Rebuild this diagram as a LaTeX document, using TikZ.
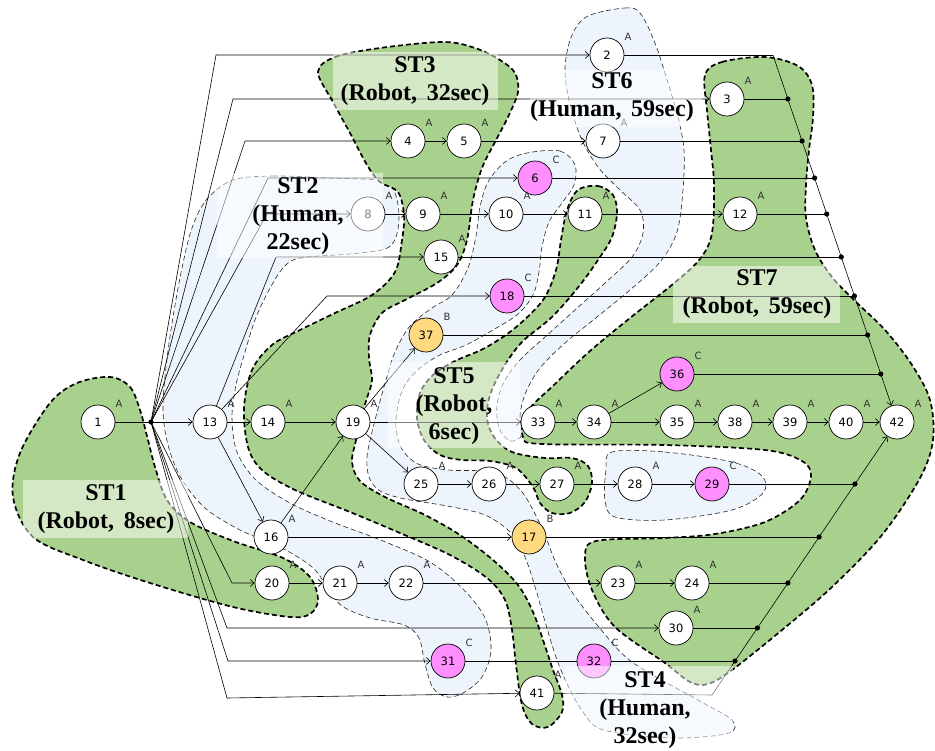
\documentclass[tikz,border=0pt]{standalone}
\usepackage{fontspec}
\setmainfont{Liberation Serif}
\newfontfamily\numfont{DejaVu Sans}
\usetikzlibrary{arrows.meta}
\definecolor{rgreen}{HTML}{A9D18E}
\definecolor{hblue}{HTML}{EDF4FB}
\definecolor{tpink}{HTML}{FF8FFF}
\definecolor{tyellow}{HTML}{FFD97F}
\definecolor{lblgray}{HTML}{333333}
\newcommand\mytask[5]{\node[task,fill=#4] (n#1) at (#2,#3) {#1};\node[lbl] at ([shift={(21,-18)}]n#1.center) {#5};}
\begin{document}
\begin{tikzpicture}[x=1pt,y=-1pt,
  grn/.style={fill=rgreen,draw=black,line width=1.7pt,dash pattern=on 5pt off 3pt},
  blu/.style={fill=hblue,draw=black!85,line width=0.6pt,dash pattern=on 5pt off 3pt},
  task/.style={circle,draw=black,line width=0.7pt,minimum size=34pt,inner sep=0pt,font=\numfont\fontsize{11.5}{11.5}\selectfont},
  lbl/.style={font=\numfont\fontsize{10}{10}\selectfont,text=lblgray,inner sep=0pt},
  edge/.style={draw=black,line width=0.6pt},
  arr/.style={edge,-{Straight Barb[length=4pt,width=7pt]}},
  stbox/.style={fill=white,fill opacity=0.5,draw=none},
  sttext/.style={font=\bfseries\fontsize{24}{28}\selectfont,align=center,inner sep=0pt}
]
\useasboundingbox (0,0) rectangle (935,751);
% ---------- blue (human) regions ----------
\path[blu] plot[smooth cycle,tension=0.55] coordinates {(233,180)(273,176)(330,178)(383,181)(395,193)(399,215)(396,237)(385,249)(350,254)(300,258)(283,268)(268,292)(255,320)(245,352)(236,385)(232,418)(237,452)(256,480)(290,503)(330,521)(383,541)(430,562)(463,589)(485,618)(491,650)(482,677)(463,693)(447,697)(433,688)(425,664)(419,638)(404,625)(370,618)(342,606)(328,588)(312,567)(280,547)(240,530)(205,508)(181,478)(168,445)(163,410)(166,367)(173,317)(182,268)(192,228)(207,199)};
\path[blu] plot[smooth cycle,tension=0.55] coordinates {(527,153)(560,151)(575,165)(574,185)(562,203)(549,222)(542,247)(539,272)(533,295)(518,314)(493,330)(466,345)(440,355)(420,368)(405,385)(398,405)(396,428)(402,449)(418,464)(448,470)(482,471)(505,477)(522,492)(533,510)(545,535)(556,563)(572,592)(598,626)(632,662)(698,700)(732,720)(729,733)(682,738)(632,735)(598,728)(583,712)(570,690)(557,660)(546,625)(536,590)(525,557)(511,533)(485,515)(447,506)(405,499)(380,491)(369,477)(367,457)(372,432)(379,405)(386,380)(395,352)(410,326)(432,308)(452,295)(468,268)(476,236)(480,207)(488,182)(505,162)};
\path[blu] plot[smooth cycle,tension=0.55] coordinates {(588,16)(625,8)(640,13)(655,43)(668,83)(678,117)(684,150)(683,190)(677,232)(660,262)(630,290)(597,317)(565,343)(540,368)(526,392)(520,415)(522,435)(510,441)(499,428)(497,405)(504,382)(520,360)(545,337)(575,310)(605,283)(632,257)(643,233)(640,210)(620,190)(598,167)(581,138)(569,100)(565,67)(572,35)};
\path[blu] plot[smooth cycle,tension=0.55] coordinates {(612,452)(665,452)(732,462)(762,476)(763,493)(732,510)(665,520)(615,517)(605,500)(606,470)};
% ---------- green (robot) regions ----------
\path[grn] plot[smooth cycle,tension=0.55] coordinates {(110,377)(130,387)(140,410)(148,440)(155,467)(167,500)(190,522)(233,541)(283,558)(310,577)(318,600)(310,614)(290,617)(233,607)(150,583)(83,560)(33,537)(13,497)(20,453)(50,403)(77,383)};
\path[grn] plot[smooth cycle,tension=0.55] coordinates {(318,72)(335,57)(380,48)(443,42)(475,48)(500,60)(515,73)(518,92)(508,117)(495,142)(482,168)(473,200)(467,240)(457,265)(437,283)(405,300)(382,313)(370,335)(369,358)(372,380)(367,398)(360,420)(356,440)(352,462)(360,481)(385,497)(425,515)(460,535)(493,560)(518,585)(533,612)(543,640)(553,670)(562,695)(562,712)(548,727)(532,724)(522,705)(516,665)(512,630)(505,600)(487,578)(450,555)(400,533)(350,512)(295,490)(262,470)(248,447)(244,408)(252,370)(272,345)(300,330)(335,313)(372,295)(395,272)(402,240)(404,215)(398,192)(380,182)(367,165)(350,133)(333,102)};
\path[grn] plot[smooth cycle,tension=0.55] coordinates {(578,190)(598,186)(613,195)(617,213)(612,237)(600,257)(580,285)(552,317)(522,342)(503,368)(490,395)(487,418)(494,437)(512,452)(545,458)(572,458)(588,466)(592,483)(585,502)(570,513)(552,513)(540,503)(533,487)(516,468)(490,461)(462,460)(440,455)(424,440)(417,418)(420,393)(433,375)(455,361)(485,348)(515,328)(543,300)(556,270)(561,240)(567,210)};
\path[grn] plot[smooth cycle,tension=0.55] coordinates {(705,75)(722,62)(765,57)(798,66)(812,85)(813,117)(809,150)(806,185)(806,218)(815,250)(832,277)(855,301)(885,330)(912,365)(930,400)(933,440)(920,478)(882,535)(832,587)(782,630)(732,670)(708,684)(690,682)(665,663)(615,627)(592,590)(585,557)(596,541)(665,538)(715,534)(765,522)(800,500)(811,476)(802,461)(765,450)(665,445)(542,444)(523,437)(527,412)(555,384)(590,351)(630,318)(673,284)(700,259)(712,233)(714,185)(711,150)(707,110)};
% ---------- tasks ----------
\mytask{1}{98}{422}{white}{A}
\mytask{2}{607}{55}{white}{A}
\mytask{3}{727}{99}{white}{A}
\mytask{4}{408}{141}{white}{A}
\mytask{5}{464}{141}{white}{A}
\mytask{6}{535}{178}{tpink}{C}
\mytask{7}{603}{141}{white}{A}
\mytask{8}{368}{214}{white}{A}
\mytask{9}{423}{214}{white}{A}
\mytask{10}{506}{214}{white}{A}
\mytask{11}{585}{214}{white}{A}
\mytask{12}{740}{214}{white}{A}
\mytask{13}{210}{422}{white}{A}
\mytask{14}{268}{422}{white}{A}
\mytask{15}{441}{257}{white}{A}
\mytask{16}{271}{537}{white}{A}
\mytask{17}{529}{537}{tyellow}{B}
\mytask{18}{507}{296}{tpink}{C}
\mytask{19}{353}{422}{white}{A}
\mytask{20}{272}{583}{white}{A}
\mytask{21}{340}{583}{white}{A}
\mytask{22}{406}{583}{white}{A}
\mytask{23}{618}{583}{white}{A}
\mytask{24}{692}{583}{white}{A}
\mytask{25}{421}{484}{white}{A}
\mytask{26}{489}{484}{white}{A}
\mytask{27}{557}{484}{white}{A}
\mytask{28}{635}{484}{white}{A}
\mytask{29}{712}{484}{tpink}{C}
\mytask{30}{676}{628}{white}{A}
\mytask{31}{448}{661}{tpink}{C}
\mytask{32}{594}{661}{tpink}{C}
\mytask{33}{538}{422}{white}{A}
\mytask{34}{594}{422}{white}{A}
\mytask{35}{677}{422}{white}{A}
\mytask{36}{677}{374}{tpink}{C}
\mytask{37}{426}{335}{tyellow}{B}
\mytask{38}{735}{422}{white}{A}
\mytask{39}{790}{422}{white}{A}
\mytask{40}{846}{422}{white}{A}
\mytask{41}{537}{693}{white}{A}
\mytask{42}{897}{422}{white}{A}
% ---------- coordinates ----------
\coordinate (J) at (151,422);
\coordinate (b2) at (216,55);
\coordinate (b3) at (233,99);
\coordinate (b4) at (245,141);
\coordinate (b6) at (268,178);
\coordinate (b8) at (267,214);
\coordinate (b15) at (276,257);
\coordinate (b18) at (327,296);
\coordinate (b20) at (232,583);
\coordinate (b30) at (227,628);
\coordinate (b31) at (228,661);
\coordinate (b41) at (227,698);
\coordinate (c2) at (773,55);
\coordinate (c41) at (712,695);
\coordinate (d3) at (787.9,99);
\coordinate (d7) at (802.1,141);
\coordinate (d6) at (814.6,178);
\coordinate (d12) at (826.7,214);
\coordinate (d15) at (841.3,257);
\coordinate (d18) at (854.4,296);
\coordinate (d37) at (867.6,335);
\coordinate (d36) at (880.8,374);
\coordinate (d32) at (735.0,661);
\coordinate (d30) at (757.4,628);
\coordinate (d24) at (787.9,583);
\coordinate (d17) at (819.1,537);
\coordinate (d29) at (855.0,484);
% ---------- connectors ----------
\draw[edge] (n1) -- (J);
\draw[arr] (J) -- (n13);
\draw[arr] (J) -- (b2) -- (n2);
\draw[arr] (J) -- (b3) -- (n3);
\draw[arr] (J) -- (b4) -- (n4);
\draw[arr] (J) -- (b6) -- (n6);
\draw[arr] (J) -- (b8) -- (n8);
\draw[arr] (J) -- (b20) -- (n20);
\draw[arr] (J) -- (b30) -- (n30);
\draw[arr] (J) -- (b31) -- (n31);
\draw[arr] (J) -- (b41) -- (n41);
\draw[arr] (n13) -- (b15) -- (n15);
\draw[arr] (n13) -- (b18) -- (n18);
\draw[arr] (n4) -- (n5);
\draw[arr] (n5) -- (n7);
\draw[arr] (n8) -- (n9);
\draw[arr] (n9) -- (n10);
\draw[arr] (n10) -- (n11);
\draw[arr] (n11) -- (n12);
\draw[arr] (n13) -- (n14);
\draw[arr] (n14) -- (n19);
\draw[arr] (n13) -- (n16);
\draw[arr] (n16) -- (n19);
\draw[arr] (n16) -- (n17);
\draw[arr] (n19) -- (n37);
\draw[arr] (n19) -- (n33);
\draw[arr] (n19) -- (n25);
\draw[arr] (n25) -- (n26);
\draw[arr] (n26) -- (n27);
\draw[arr] (n27) -- (n28);
\draw[arr] (n28) -- (n29);
\draw[arr] (n20) -- (n21);
\draw[arr] (n21) -- (n22);
\draw[arr] (n22) -- (n23);
\draw[arr] (n23) -- (n24);
\draw[arr] (n33) -- (n34);
\draw[arr] (n34) -- (n35);
\draw[arr] (n34) -- (n36);
\draw[arr] (n35) -- (n38);
\draw[arr] (n38) -- (n39);
\draw[arr] (n39) -- (n40);
\draw[arr] (n40) -- (n42);
\draw[edge] (n2) -- (c2);
\draw[edge] (n3) -- (d3);
\draw[edge] (n7) -- (d7);
\draw[edge] (n6) -- (d6);
\draw[edge] (n12) -- (d12);
\draw[edge] (n15) -- (d15);
\draw[edge] (n18) -- (d18);
\draw[edge] (n37) -- (d37);
\draw[edge] (n36) -- (d36);
\draw[edge] (n29) -- (d29);
\draw[edge] (n17) -- (d17);
\draw[edge] (n24) -- (d24);
\draw[edge] (n30) -- (d30);
\draw[edge] (n31) -- (n32);
\draw[edge] (n32) -- (d32);
\draw[edge] (n41) -- (c41);
\draw[arr] (c2) -- (n42);
\draw[arr] (c41) -- (n42);
\foreach \p in {J,d3,d7,d6,d12,d15,d18,d37,d36,d32,d30,d24,d17,d29} {\fill (\p) circle (2.6);}
% ---------- label boxes ----------
\path[stbox] (333,52) rectangle (498,110);
\path[stbox] (530,70) rectangle (702,127);
\path[stbox] (217,173) rectangle (383,258);
\path[stbox] (673,266) rectangle (840,323);
\path[stbox] (388,362) rectangle (520,448);
\path[stbox] (23,480) rectangle (188,538);
\path[stbox] (565,666) rectangle (733,751);
% ---------- ST texts ----------
\node[sttext] (st3) at (415,81) {ST3\\(Robot,\hspace{0.4em}32sec)};
\node[sttext] (st6) at (612,97) {ST6\\(Human,\hspace{0.4em}59sec)};
\node[sttext] (st2) at (298,216) {ST2\\(Human,\\22sec)};
\node[sttext] (st7) at (757,294) {ST7\\(Robot,\hspace{0.4em}59sec)};
\node[sttext] (st5) at (454,406) {ST5\\(Robot,\\6sec)};
\node[sttext] (st1) at (106,509) {ST1\\(Robot,\hspace{0.4em}8sec)};
\node[sttext] (st4) at (645,710) {ST4\\(Human,\\32sec)};
\end{tikzpicture}
\end{document}
